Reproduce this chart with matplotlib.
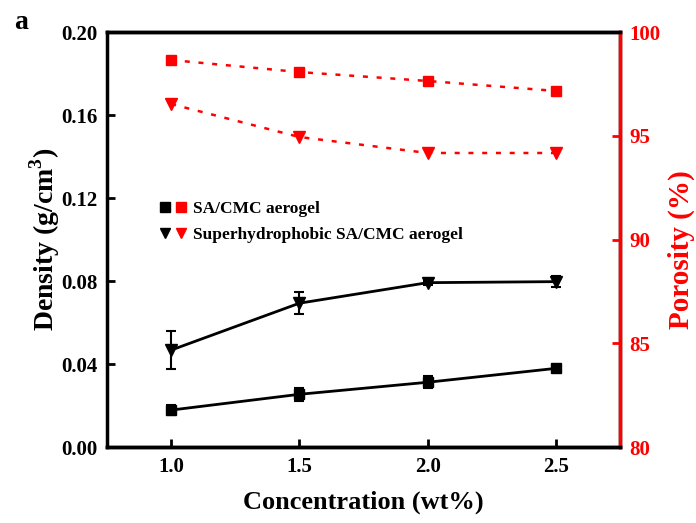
import matplotlib.pyplot as plt
from matplotlib.legend_handler import HandlerTuple
from matplotlib.lines import Line2D

conc = [1.0, 1.5, 2.0, 2.5]
dens_sa = [0.0178, 0.0254, 0.0312, 0.0379]
dens_sa_err = [0.0025, 0.003, 0.003, 0.001]
dens_sh = [0.0467, 0.0693, 0.0792, 0.0797]
dens_sh_err = [0.009, 0.0053, 0.001, 0.0025]
por_sa = [98.65, 98.07, 97.64, 97.16]
por_sh = [96.53, 94.94, 94.17, 94.17]

plt.rcParams['font.family'] = ['Liberation Serif', 'DejaVu Serif']
plt.rcParams['font.weight'] = 'bold'
plt.rcParams['axes.labelweight'] = 'bold'
plt.rcParams['mathtext.fontset'] = 'custom'
plt.rcParams['mathtext.rm'] = 'Liberation Serif:bold'
plt.rcParams['mathtext.bf'] = 'Liberation Serif:bold'

fig = plt.figure(figsize=(6.96, 5.23), dpi=100)
ax = fig.add_axes([0.1537, 0.1453, 0.7371, 0.7935])
ax2 = ax.twinx()

ax.errorbar(conc, dens_sa, yerr=dens_sa_err, color='black', marker='s', ms=6.5,
            lw=2, elinewidth=1.5, capsize=3.5, capthick=1.5)
ax.errorbar(conc, dens_sh, yerr=dens_sh_err, color='black', marker='v', ms=8,
            lw=2, elinewidth=1.5, capsize=3.5, capthick=1.5)
ax2.plot(conc, por_sa, color='red', marker='s', ms=6.5, lw=1.8, dashes=(2, 3.5))
ax2.plot(conc, por_sh, color='red', marker='v', ms=8, lw=1.8, dashes=(2, 3.5))

ax.set_xlim(0.75, 2.75)
ax.set_ylim(0, 0.20)
ax.set_xticks(conc)
ax.set_xticklabels(['1.0', '1.5', '2.0', '2.5'])
ax.set_yticks([0, 0.04, 0.08, 0.12, 0.16, 0.20])
ax.set_yticklabels(['0.00', '0.04', '0.08', '0.12', '0.16', '0.20'])
ax2.set_ylim(80, 100)
ax2.set_yticks([80, 85, 90, 95, 100])

for s in ax.spines.values():
    s.set_linewidth(2.5)
for s in ax2.spines.values():
    s.set_linewidth(2.5)
ax2.spines['right'].set_color('red')
ax2.spines['left'].set_visible(False)

ax.tick_params(direction='in', length=6, width=2, labelsize=15, pad=7)
ax.tick_params(axis='y', right=False)
ax2.tick_params(direction='in', length=6, width=2, labelsize=15, pad=7,
                colors='red')

ax.set_xlabel('Concentration (wt%)', fontsize=19, labelpad=10)
ax.set_ylabel('Density (g/cm$^{3}$)', fontsize=20, va='center')
ax.yaxis.set_label_coords(-0.122, 0.5)
ax2.set_ylabel('Porosity (%)', fontsize=21, color='red', va='center',
               rotation=90)
ax2.yaxis.set_label_coords(1.12, 0.475)

fig.text(0.02, 0.945, 'a', fontsize=20, fontweight='bold')

h1 = (Line2D([], [], color='black', marker='s', ls='none', ms=7),
      Line2D([], [], color='red', marker='s', ls='none', ms=7))
h2 = (Line2D([], [], color='black', marker='v', ls='none', ms=7.5),
      Line2D([], [], color='red', marker='v', ls='none', ms=7.5))
ax.legend([h1, h2], ['SA/CMC aerogel', 'Superhydrophobic SA/CMC aerogel'],
          handler_map={tuple: HandlerTuple(ndivide=None, pad=0.1)},
          loc='upper left', bbox_to_anchor=(0.07, 0.63), frameon=False,
          fontsize=12.5, handlelength=1.7, handletextpad=0.3, labelspacing=0.55)

fig.savefig('out.png', dpi=100)
